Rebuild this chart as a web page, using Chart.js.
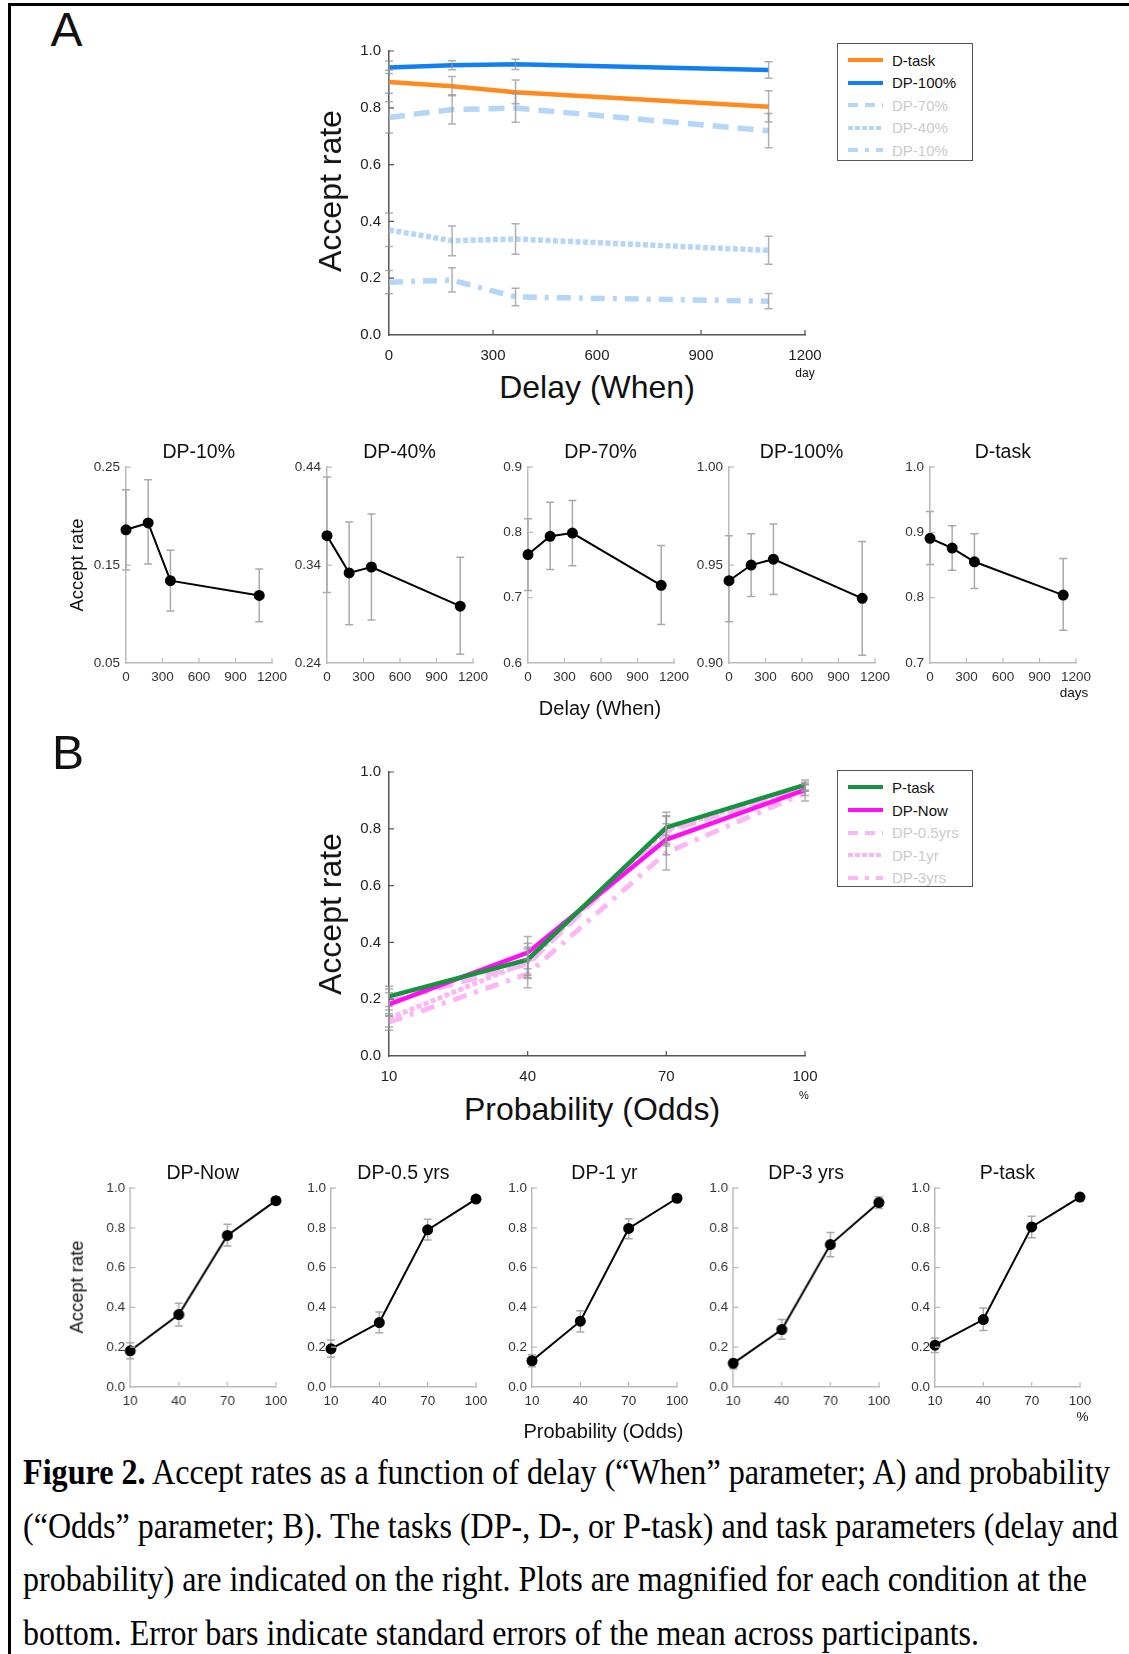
<!DOCTYPE html>
<html>
<head>
<meta charset="utf-8">
<script src="https://cdn.jsdelivr.net/npm/chart.js@4.4.1/dist/chart.umd.min.js"></script>
<style>
  body { margin: 0; background: #fff; width: 1129px; height: 1654px; position: relative; overflow: hidden;
         font-family: "Liberation Sans", Arial, sans-serif; }
  .t { position: absolute; white-space: nowrap; line-height: 1; color: #111; }
  .c { transform: translate(-50%, -50%); }
  .rot { transform: translate(-50%, -50%) rotate(-90deg); }
  .wrap { position: absolute; }
  .legend { position: absolute; border: 1.5px solid #555; background: #fff; box-sizing: border-box; }
  .cap { position: absolute; left: 23px; white-space: nowrap; line-height: 1; font-family: "Liberation Serif", "Times New Roman", serif;
         font-size: 35px; color: #000; transform-origin: 0 0; }
  .frame-top { position: absolute; left: 8px; top: 3px; width: 1121px; height: 3px; background: #000; }
  .frame-left { position: absolute; left: 8px; top: 3px; width: 3px; height: 1651px; background: #000; }
</style>
</head>
<body>
<div class="frame-top"></div>
<div class="frame-left"></div>
<script>
// ---- data ----
const delayDays = [0, 182, 365, 1095];
const oddsPct = [10, 40, 70, 100];

// panel A (delay)
const dTask   = [0.891, 0.876, 0.855, 0.804];
const dTaskHi = [0.932, 0.910, 0.898, 0.860];
const dTaskLo = [0.851, 0.842, 0.814, 0.750];
const dp100   = [0.942, 0.950, 0.953, 0.933];
const dp100Hi = [0.965, 0.966, 0.971, 0.962];
const dp100Lo = [0.921, 0.934, 0.935, 0.904];
const dp70    = [0.766, 0.794, 0.799, 0.719];
const dp70Hi  = [0.821, 0.846, 0.849, 0.780];
const dp70Lo  = [0.711, 0.743, 0.749, 0.659];
const dp40    = [0.370, 0.332, 0.338, 0.298];
const dp40Hi  = [0.430, 0.384, 0.392, 0.348];
const dp40Lo  = [0.312, 0.279, 0.284, 0.249];
const dp10    = [0.186, 0.193, 0.134, 0.119];
const dp10Hi  = [0.227, 0.237, 0.165, 0.146];
const dp10Lo  = [0.145, 0.151, 0.103, 0.092];

// panel B (odds)
const pTask   = [0.210, 0.339, 0.805, 0.955];
const pTaskHi = [0.246, 0.397, 0.858, 0.972];
const pTaskLo = [0.174, 0.284, 0.750, 0.937];
const dpNow   = [0.182, 0.364, 0.762, 0.937];
const dpNowHi = [0.223, 0.421, 0.818, 0.955];
const dpNowLo = [0.142, 0.307, 0.709, 0.917];
const dp05y   = [0.192, 0.324, 0.790, 0.945];
const dp05yHi = [0.236, 0.377, 0.843, 0.957];
const dp05yLo = [0.149, 0.273, 0.739, 0.932];
const dp1y    = [0.132, 0.331, 0.797, 0.949];
const dp1yHi  = [0.162, 0.383, 0.846, 0.964];
const dp1yLo  = [0.102, 0.276, 0.745, 0.932];
const dp3y    = [0.119, 0.289, 0.716, 0.927];
const dp3yHi  = [0.140, 0.339, 0.777, 0.957];
const dp3yLo  = [0.091, 0.240, 0.655, 0.898];

// ticks
const delayTicks = [0, 300, 600, 900, 1200];
const oddsTicks = [10, 40, 70, 100];
const rateTicks = [0, 0.2, 0.4, 0.6, 0.8, 1.0];
const rateTickLabels = ["0.0", "0.2", "0.4", "0.6", "0.8", "1.0"];
const dp10Ticks = [0.05, 0.15, 0.25];
const dp10TickLabels = ["0.05", "0.15", "0.25"];
const dp40Ticks = [0.24, 0.34, 0.44];
const dp40TickLabels = ["0.24", "0.34", "0.44"];
const dp70Ticks = [0.6, 0.7, 0.8, 0.9];
const dp70TickLabels = ["0.6", "0.7", "0.8", "0.9"];
const dp100Ticks = [0.90, 0.95, 1.00];
const dp100TickLabels = ["0.90", "0.95", "1.00"];
const dTaskTicks = [0.7, 0.8, 0.9, 1.0];
const dTaskTickLabels = ["0.7", "0.8", "0.9", "1.0"];

// ---- styles ----
const ORANGE = "#ff8a1e";
const BLUE = "#1280f2";
const LIGHT_BLUE = "#b6d6f8";
const GREEN = "#15933f";
const MAGENTA = "#ff10f0";
const LIGHT_PINK = "#fdb6f4";
const DASH = [16, 9];
const DOT = [5, 2.5];
const DASHDOT = [14, 8, 4, 8];

Chart.defaults.font.family = "'Liberation Sans', Arial, sans-serif";

function pts(xs, ys) {
  return xs.map((x, i) => ({ x: x, y: ys[i] }));
}

function drawBars(chart, o) {
  const ctx = chart.ctx, xs = chart.scales.x, ys = chart.scales.y;
  ctx.save();
  ctx.strokeStyle = o.color;
  ctx.lineWidth = o.width;
  chart.data.datasets.forEach(ds => {
    if (!ds.errLo) return;
    ds.data.forEach((p, i) => {
      const px = xs.getPixelForValue(p.x);
      const top = ys.getPixelForValue(ds.errHi[i]);
      const bot = ys.getPixelForValue(ds.errLo[i]);
      ctx.beginPath();
      ctx.moveTo(px, top); ctx.lineTo(px, bot);
      ctx.moveTo(px - o.cap, top); ctx.lineTo(px + o.cap, top);
      ctx.moveTo(px - o.cap, bot); ctx.lineTo(px + o.cap, bot);
      ctx.stroke();
    });
  });
  ctx.restore();
}

// error bars + inward tick marks
const errorBars = {
  id: "errorBars",
  beforeDatasetsDraw(chart, args, o) { if (!o.onTop) drawBars(chart, o); },
  afterDatasetsDraw(chart, args, o) { if (o.onTop) drawBars(chart, o); },
  afterDraw(chart, args, o) {
    const ctx = chart.ctx, xs = chart.scales.x, ys = chart.scales.y, a = chart.chartArea;
    ctx.save();
    ctx.strokeStyle = o.tickColor;
    ctx.lineWidth = 1.2;
    ctx.beginPath();
    xs.ticks.forEach(t => {
      const px = xs.getPixelForValue(t.value);
      if (Math.abs(px - a.left) < 1) return;
      ctx.moveTo(px, a.bottom); ctx.lineTo(px, a.bottom - o.tickLen);
    });
    ys.ticks.forEach(t => {
      const py = ys.getPixelForValue(t.value);
      if (Math.abs(py - a.bottom) < 1) return;
      ctx.moveTo(a.left, py); ctx.lineTo(a.left + o.tickLen, py);
    });
    ctx.stroke();
    ctx.restore();
  }
};
Chart.register(errorBars);

function makeChart(s) {
  const w = s.w + s.padL + s.padR, h = s.h + s.padT + s.padB;
  const wrap = document.createElement("div");
  wrap.className = "wrap";
  wrap.style.left = (s.left - s.padL) + "px";
  wrap.style.top = (s.top - s.padT) + "px";
  const canvas = document.createElement("canvas");
  canvas.width = w; canvas.height = h;
  canvas.style.width = w + "px"; canvas.style.height = h + "px";
  wrap.appendChild(canvas);
  document.body.appendChild(wrap);

  const axisStyle = (ticks, labels, min, max, fit, pad) => ({
    type: "linear", min: min, max: max,
    afterBuildTicks: sc => { sc.ticks = ticks.map(v => ({ value: v })); },
    afterFit: fit,
    grid: { drawOnChartArea: false, drawTicks: false },
    border: { color: s.axisColor, width: 1.5 },
    ticks: { padding: pad, color: s.tickColor, font: { size: s.fontSize },
             maxRotation: 0, autoSkip: false, callback: (v, i) => labels[i] }
  });

  return new Chart(canvas, {
    type: "line",
    data: { datasets: s.datasets },
    options: {
      responsive: false, animation: false, devicePixelRatio: 1,
      layout: { padding: { top: s.padT, right: s.padR, left: 0, bottom: 0 } },
      elements: { line: { tension: 0 } },
      plugins: {
        legend: { display: false }, tooltip: { enabled: false },
        errorBars: { onTop: s.barsOnTop, color: s.barColor, width: 1.5, cap: 4,
                     tickColor: s.axisColor, tickLen: 5 }
      },
      scales: {
        x: axisStyle(s.xTicks, s.xTicks.map(String), s.xMin, s.xMax, sc => { sc.height = s.padB; }, s.xPad),
        y: axisStyle(s.yTicks, s.yLabels, s.yMin, s.yMax, sc => { sc.width = s.padL; }, s.yPad)
      }
    }
  });
}

function lineSet(label, xs, ys, lo, hi, color, width, dash) {
  return { label: label, data: pts(xs, ys), errLo: lo, errHi: hi, borderColor: color,
           borderWidth: width, borderDash: dash || [], pointRadius: 0, clip: false, fill: false };
}

function dotSet(label, xs, ys, lo, hi) {
  return { label: label, data: pts(xs, ys), errLo: lo, errHi: hi, borderColor: "#000",
           borderWidth: 2, pointRadius: 4.5, pointBackgroundColor: "#000", pointBorderColor: "#000",
           clip: false, fill: false };
}

function text(str, x, y, size, cls, extra) {
  const d = document.createElement("div");
  d.className = "t " + (cls || "c");
  d.style.left = x + "px"; d.style.top = y + "px";
  d.style.fontSize = size + "px";
  if (extra) Object.assign(d.style, extra);
  d.textContent = str;
  document.body.appendChild(d);
  return d;
}

function legend(left, top, w, h, rows) {
  const box = document.createElement("div");
  box.className = "legend";
  Object.assign(box.style, { left: left + "px", top: top + "px", width: w + "px", height: h + "px" });
  document.body.appendChild(box);
  rows.forEach(r => {
    const y = r.y - top;
    const svg = document.createElementNS("http://www.w3.org/2000/svg", "svg");
    svg.setAttribute("width", "40"); svg.setAttribute("height", "8");
    Object.assign(svg.style, { position: "absolute", left: "8px", top: (y - 4) + "px" });
    const ln = document.createElementNS("http://www.w3.org/2000/svg", "line");
    ln.setAttribute("x1", "2"); ln.setAttribute("x2", "37"); ln.setAttribute("y1", "4"); ln.setAttribute("y2", "4");
    ln.setAttribute("stroke", r.color); ln.setAttribute("stroke-width", "4");
    if (r.dash) ln.setAttribute("stroke-dasharray", r.dash.join(" "));
    svg.appendChild(ln);
    box.appendChild(svg);
    const t = document.createElement("div");
    t.className = "t";
    Object.assign(t.style, { left: "54px", top: (y - 7.5) + "px", fontSize: "15px", color: r.textColor });
    t.textContent = r.label;
    box.appendChild(t);
  });
}

// ---- panel A ----
text("A", 66.5, 30, 48);
makeChart({
  left: 389, top: 47.5, w: 416, h: 287, padL: 70, padR: 30, padT: 14, padB: 34,
  xMin: 0, xMax: 1200, xTicks: delayTicks, yMin: 0, yMax: 1, yTicks: rateTicks, yLabels: rateTickLabels,
  xPad: 12, yPad: 8, fontSize: 15, tickColor: "#222", axisColor: "#555",
  barColor: "rgba(150,150,150,0.75)", barsOnTop: true,
  datasets: [
    lineSet("D-task", delayDays, dTask, dTaskLo, dTaskHi, ORANGE, 4.5),
    lineSet("DP-100%", delayDays, dp100, dp100Lo, dp100Hi, BLUE, 4.5),
    lineSet("DP-70%", delayDays, dp70, dp70Lo, dp70Hi, LIGHT_BLUE, 5.5, DASH),
    lineSet("DP-40%", delayDays, dp40, dp40Lo, dp40Hi, LIGHT_BLUE, 5.5, DOT),
    lineSet("DP-10%", delayDays, dp10, dp10Lo, dp10Hi, LIGHT_BLUE, 5.5, DASHDOT)
  ]
});
text("Accept rate", 330, 191, 32, "rot");
text("Delay (When)", 597, 387, 32);
text("day", 805, 372.5, 12);
legend(837, 43, 136, 118, [
  { label: "D-task", y: 59, color: ORANGE, textColor: "#111" },
  { label: "DP-100%", y: 81.5, color: BLUE, textColor: "#111" },
  { label: "DP-70%", y: 104, color: LIGHT_BLUE, dash: [10, 7], textColor: "#cbcbcb" },
  { label: "DP-40%", y: 126.5, color: LIGHT_BLUE, dash: [5, 2], textColor: "#cbcbcb" },
  { label: "DP-10%", y: 149, color: LIGHT_BLUE, dash: [10, 7, 4, 7], textColor: "#cbcbcb" }
]);

const smallA = [
  { title: "DP-10%", left: 125.7, ys: dp10, lo: dp10Lo, hi: dp10Hi, min: 0.05, max: 0.25, ticks: dp10Ticks, labels: dp10TickLabels },
  { title: "DP-40%", left: 326.5, ys: dp40, lo: dp40Lo, hi: dp40Hi, min: 0.24, max: 0.44, ticks: dp40Ticks, labels: dp40TickLabels },
  { title: "DP-70%", left: 527.6, ys: dp70, lo: dp70Lo, hi: dp70Hi, min: 0.6, max: 0.9, ticks: dp70Ticks, labels: dp70TickLabels },
  { title: "DP-100%", left: 728.6, ys: dp100, lo: dp100Lo, hi: dp100Hi, min: 0.90, max: 1.00, ticks: dp100Ticks, labels: dp100TickLabels },
  { title: "D-task", left: 929.8, ys: dTask, lo: dTaskLo, hi: dTaskHi, min: 0.7, max: 1.0, ticks: dTaskTicks, labels: dTaskTickLabels }
];
smallA.forEach(p => {
  makeChart({
    left: p.left, top: 463, w: 146, h: 200, padL: 46, padR: 24, padT: 10, padB: 24,
    xMin: 0, xMax: 1200, xTicks: delayTicks, yMin: p.min, yMax: p.max, yTicks: p.ticks, yLabels: p.labels,
    xPad: 6, yPad: 6, fontSize: 13.5, tickColor: "#333", axisColor: "#bbb",
    barColor: "#aaa", barsOnTop: false,
    datasets: [dotSet(p.title, delayDays, p.ys, p.lo, p.hi)]
  });
  text(p.title, p.left + 73, 451.6, 19.5);
});
text("Accept rate", 77, 564.5, 18.4, "rot");
text("Delay (When)", 600, 708, 20);
text("days", 1074, 693, 13.5);

// ---- panel B ----
text("B", 68, 752.5, 48);
makeChart({
  left: 389, top: 769, w: 416, h: 287, padL: 70, padR: 30, padT: 14, padB: 34,
  xMin: 10, xMax: 100, xTicks: oddsTicks, yMin: 0, yMax: 1, yTicks: rateTicks, yLabels: rateTickLabels,
  xPad: 12, yPad: 8, fontSize: 15, tickColor: "#222", axisColor: "#555",
  barColor: "rgba(150,150,150,0.75)", barsOnTop: true,
  datasets: [
    lineSet("P-task", oddsPct, pTask, pTaskLo, pTaskHi, GREEN, 4.5),
    lineSet("DP-Now", oddsPct, dpNow, dpNowLo, dpNowHi, MAGENTA, 4.5),
    lineSet("DP-0.5yrs", oddsPct, dp05y, dp05yLo, dp05yHi, LIGHT_PINK, 5, DASH),
    lineSet("DP-1yr", oddsPct, dp1y, dp1yLo, dp1yHi, LIGHT_PINK, 5, DOT),
    lineSet("DP-3yrs", oddsPct, dp3y, dp3yLo, dp3yHi, LIGHT_PINK, 5, DASHDOT)
  ]
});
text("Accept rate", 330, 914, 32, "rot");
text("Probability (Odds)", 592, 1109, 32);
text("%", 804, 1095, 11);
legend(837, 770, 136, 117, [
  { label: "P-task", y: 786, color: GREEN, textColor: "#111" },
  { label: "DP-Now", y: 809, color: MAGENTA, textColor: "#111" },
  { label: "DP-0.5yrs", y: 831.5, color: LIGHT_PINK, dash: [10, 7], textColor: "#cbcbcb" },
  { label: "DP-1yr", y: 854, color: LIGHT_PINK, dash: [5, 2], textColor: "#cbcbcb" },
  { label: "DP-3yrs", y: 876.5, color: LIGHT_PINK, dash: [10, 7, 4, 7], textColor: "#cbcbcb" }
]);

const smallB = [
  { title: "DP-Now", left: 130, ys: dpNow, lo: dpNowLo, hi: dpNowHi },
  { title: "DP-0.5 yrs", left: 330.7, ys: dp05y, lo: dp05yLo, hi: dp05yHi },
  { title: "DP-1 yr", left: 531.7, ys: dp1y, lo: dp1yLo, hi: dp1yHi },
  { title: "DP-3 yrs", left: 733.4, ys: dp3y, lo: dp3yLo, hi: dp3yHi },
  { title: "P-task", left: 934.7, ys: pTask, lo: pTaskLo, hi: pTaskHi }
];
smallB.forEach(p => {
  makeChart({
    left: p.left, top: 1185, w: 145.5, h: 202, padL: 46, padR: 24, padT: 10, padB: 24,
    xMin: 10, xMax: 100, xTicks: oddsTicks, yMin: 0, yMax: 1, yTicks: rateTicks, yLabels: rateTickLabels,
    xPad: 6, yPad: 5, fontSize: 13.5, tickColor: "#333", axisColor: "#bbb",
    barColor: "#aaa", barsOnTop: false,
    datasets: [dotSet(p.title, oddsPct, p.ys, p.lo, p.hi)]
  });
  text(p.title, p.left + 72.7, 1173.3, 19.5);
});
text("Accept rate", 77, 1287, 18.4, "rot");
text("Probability (Odds)", 603.5, 1431, 20);
text("%", 1082.5, 1417, 13.5);

// ---- caption ----
const captionLines = [
  { html: "<b>Figure 2.</b> Accept rates as a function of delay (“When” parameter; A) and probability", top: 1455, width: 1087 },
  { html: "(“Odds” parameter; B). The tasks (DP-, D-, or P-task) and task parameters (delay and", top: 1509, width: 1095 },
  { html: "probability) are indicated on the right. Plots are magnified for each condition at the", top: 1562, width: 1064 },
  { html: "bottom. Error bars indicate standard errors of the mean across participants.", top: 1616, width: 956 }
];
captionLines.forEach(l => {
  const d = document.createElement("div");
  d.className = "cap";
  d.style.top = l.top + "px";
  d.innerHTML = l.html;
  document.body.appendChild(d);
  const wNow = d.getBoundingClientRect().width;
  d.style.transform = "scaleX(" + (l.width / wNow) + ")";
});
</script>
</body>
</html>
